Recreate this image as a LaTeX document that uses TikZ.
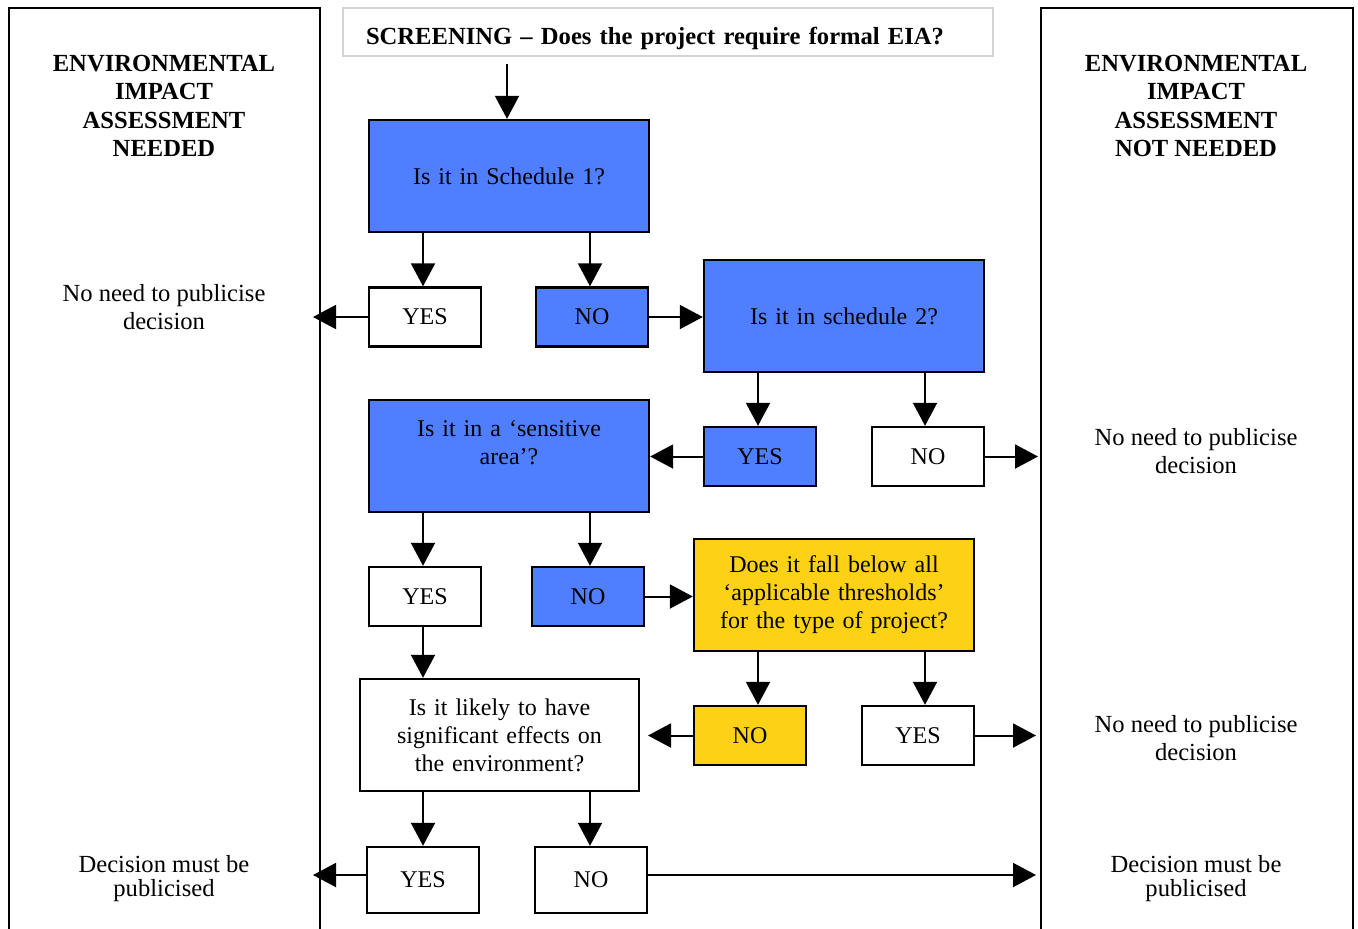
\documentclass[tikz,border=0pt]{standalone}
\usepackage{fontspec}
\setmainfont{Liberation Serif}
\usetikzlibrary{arrows.meta}
\definecolor{qblue}{HTML}{4F7FFF}
\definecolor{qyellow}{HTML}{FCD116}
\definecolor{scrgray}{HTML}{D4D4D4}
\begin{document}
\begin{tikzpicture}[x=0.5pt,y=-0.5pt,
  every node/.style={font=\fontsize{12}{14}\selectfont},
  box/.style={draw=black,line width=1.2pt,align=center,inner sep=2pt},
  bigbox/.style={box,minimum width=140pt,minimum height=56pt,text width=128pt},
  smallbox/.style={box,minimum width=56pt,minimum height=29.5pt},
  blue/.style={fill=qblue},
  yellow/.style={fill=qyellow},
  white/.style={fill=white},
  panel/.style={draw=black,line width=1pt},
  heading/.style={font=\fontsize{12.3}{14.25}\selectfont\bfseries,align=center},
  note/.style={align=center,font=\fontsize{12.3}{14}\selectfont},
  conn/.style={line width=1pt,-{Triangle[length=11.5pt,width=12pt]}}
]
\useasboundingbox (0,0) rectangle (1358,928);
\begin{scope}
\clip (0,0) rectangle (1358,928);
% panels
\draw[panel] (9,960) -- (9,8) -- (320,8) -- (320,960);
\draw[panel] (1041,960) -- (1041,8) -- (1353,8) -- (1353,960);
\end{scope}

% panel texts
\node[heading] (hl) at (164,106) {ENVIRONMENTAL\\IMPACT\\ASSESSMENT\\NEEDED};
\node[heading] (hr) at (1196,106) {ENVIRONMENTAL\\IMPACT\\ASSESSMENT\\NOT NEEDED};
\node[note] (l1) at (164,307) {No need to publicise\\decision};
\node[note,font=\fontsize{12.3}{12}\selectfont] (l2) at (164,879) {Decision must be\\publicised};
\node[note] (r1) at (1196,451) {No need to publicise\\decision};
\node[note] (r2) at (1196,738) {No need to publicise\\decision};
\node[note,font=\fontsize{12.3}{12}\selectfont] (r3) at (1196,879) {Decision must be\\publicised};

% screening
\node[draw=scrgray,line width=0.6pt,minimum height=24pt,text width=302pt,align=left,
      inner xsep=11.5pt,inner ysep=0pt,text height=12pt,text depth=0pt,
      font=\fontsize{12.3}{14}\selectfont\bfseries] (scr) at (668,32) {SCREENING -- Does the project require formal EIA?};
\coordinate (scrout) at (507,64);

% decision boxes
\node[bigbox,blue] (s1) at (509,176) {Is it in Schedule 1?};
\node[smallbox,white] (yes1) at (425,317) {YES};
\node[smallbox,blue] (no1) at (592,317) {NO};
\node[bigbox,blue] (s2) at (844,316) {Is it in schedule 2?};
\node[smallbox,blue] (yes2) at (760,456.5) {YES};
\node[smallbox,white] (no2) at (928,456.5) {NO};
\node[bigbox,blue] (sens) at (509,456) {Is it in a `sensitive\\area'?\\\mbox{}};
\node[smallbox,white] (yes3) at (425,596.5) {YES};
\node[smallbox,blue] (no3) at (588,596.5) {NO};
\node[bigbox,yellow] (thr) at (834,595) {Does it fall below all\\`applicable thresholds'\\for the type of project?};
\node[smallbox,yellow] (no4) at (750,735.5) {NO};
\node[smallbox,white] (yes4) at (918,735.5) {YES};
\node[bigbox,white,minimum width=139.75pt] (lik) at (499.5,735) {Is it likely to have\\significant effects on\\the environment?};
\node[smallbox,white,minimum height=33pt] (yes5) at (423,880) {YES};
\node[smallbox,white,minimum height=33pt] (no5) at (591,880) {NO};

% free ends
\coordinate (pl1) at (313,317);
\coordinate (pr1) at (1038,456.5);
\coordinate (lk) at (648,735.5);
\coordinate (pr2) at (1036,735.5);
\coordinate (pl2) at (313,875);
\coordinate (pr3) at (1036,875);

% connectors
\draw[conn] (scrout) -- (s1.north -| scrout);
\draw[conn] (s1.south -| yes1) ++(-2,0) coordinate (a1) -- (a1 |- yes1.north);
\draw[conn] (s1.south -| no1) ++(-2,0) coordinate (a2) -- (a2 |- no1.north);
\draw[conn] (yes1.west) -- (pl1);
\draw[conn] (no1.east) -- (s2.west |- no1);
\draw[conn] (s2.south -| yes2) ++(-2,0) coordinate (a3) -- (a3 |- yes2.north);
\draw[conn] (s2.south -| no2) ++(-3,0) coordinate (a4) -- (a4 |- no2.north);
\draw[conn] (yes2.west) -- (sens.east |- yes2);
\draw[conn] (no2.east) -- (pr1);
\draw[conn] (sens.south -| yes3) ++(-2,0) coordinate (a5) -- (a5 |- yes3.north);
\draw[conn] (sens.south) ++(81,0) coordinate (a6) -- (a6 |- no3.north);
\draw[conn] (no3.east) -- (thr.west |- no3);
\draw[conn] (thr.south) ++(-76,0) coordinate (a7) -- (a7 |- no4.north);
\draw[conn] (thr.south) ++(91,0) coordinate (a8) -- (a8 |- yes4.north);
\draw[conn] (no4.west) -- (lk);
\draw[conn] (yes4.east) -- (pr2);
\draw[conn] (yes3.south) ++(-2,0) coordinate (a9) -- (a9 |- lik.north);
\draw[conn] (lik.south) ++(-76.5,0) coordinate (a10) -- (a10 |- yes5.north);
\draw[conn] (lik.south) ++(90.5,0) coordinate (a11) -- (a11 |- no5.north);
\draw[conn] (yes5.west |- pl2) -- (pl2);
\draw[conn] (no5.east |- pr3) -- (pr3);
\end{tikzpicture}
\end{document}
